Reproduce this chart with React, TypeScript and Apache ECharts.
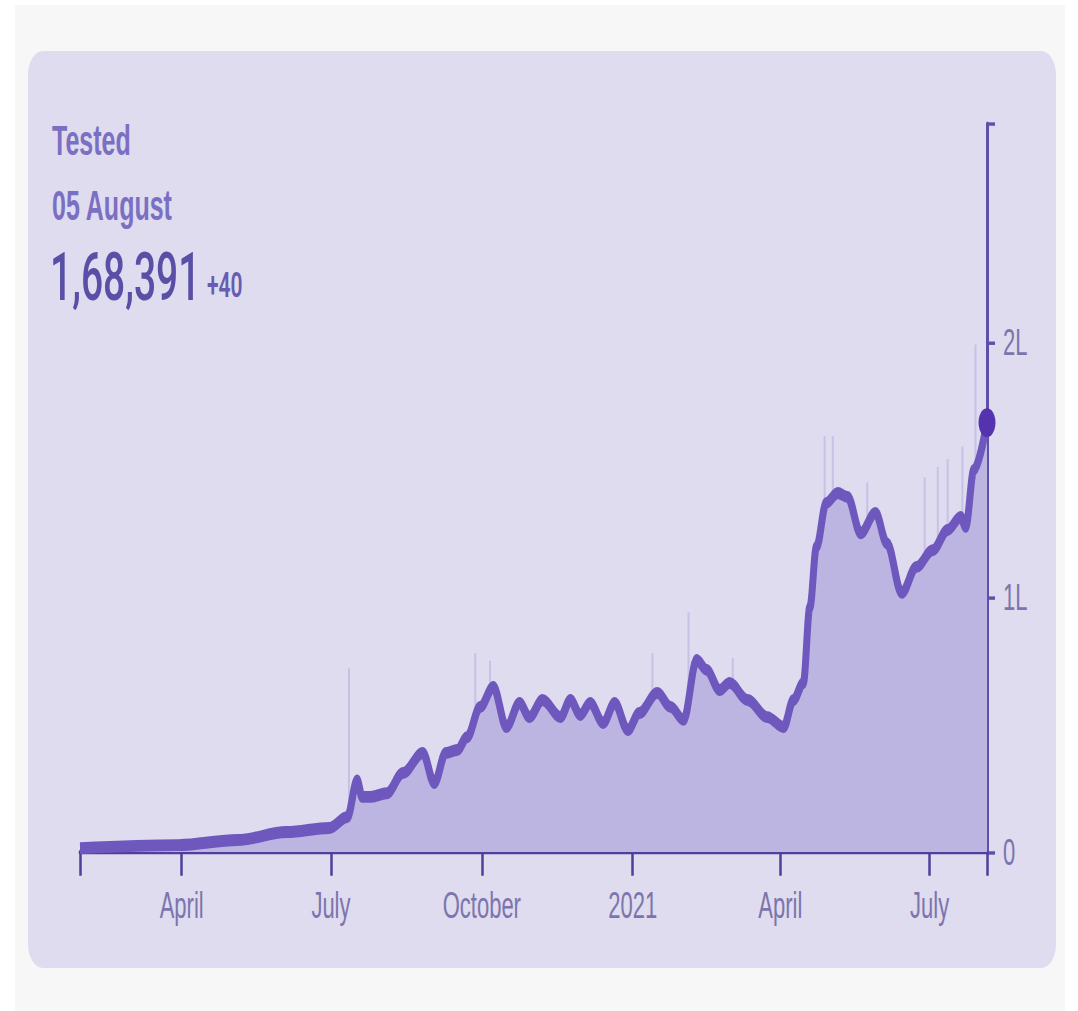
import React, { useEffect, useRef } from 'react';
import * as echarts from 'echarts';

// 7-day average of daily tests
const lineDates = [
  '2020-01-30', '2020-03-30', '2020-05-05', '2020-06-04', '2020-06-30', '2020-07-11', '2020-07-17', '2020-07-20',
  '2020-07-25', '2020-08-04', '2020-08-14', '2020-08-26', '2020-09-02', '2020-09-09', '2020-09-16', '2020-09-22',
  '2020-09-30', '2020-10-08', '2020-10-16', '2020-10-24', '2020-10-30', '2020-11-07', '2020-11-18', '2020-11-24',
  '2020-11-30', '2020-12-06', '2020-12-14', '2020-12-21', '2020-12-29', '2021-01-05', '2021-01-16', '2021-01-24',
  '2021-02-01', '2021-02-09', '2021-02-15', '2021-02-23', '2021-03-01', '2021-03-12', '2021-03-24', '2021-04-03',
  '2021-04-09', '2021-04-15', '2021-04-19', '2021-04-23', '2021-04-29', '2021-05-06', '2021-05-12', '2021-05-20',
  '2021-05-29', '2021-06-05', '2021-06-14', '2021-06-23', '2021-07-03', '2021-07-12', '2021-07-20', '2021-07-23',
  '2021-07-28', '2021-08-05',
];
const lineValues = [
  1500, 2700, 4700, 7800, 9400, 13700, 28000, 21600,
  21600, 23000, 31000, 38800, 27000, 38800, 40000, 45000,
  56900, 64700, 49000, 58400, 52900, 59600, 52900, 59600,
  53700, 58400, 50600, 58400, 47800, 54500, 62400, 56900,
  51800, 75300, 71400, 63500, 66300, 59600, 52900, 49000,
  59600, 66300, 96000, 119600, 136900, 140800, 139200, 125000,
  133000, 121000, 101600, 111800, 118400, 126300, 131400, 127500,
  149800, 168391,
];

// visible daily spikes rising above the average line
const spikeDates = [
  '2020-07-12', '2020-09-27', '2020-10-06', '2021-01-13', '2021-02-04', '2021-03-03', '2021-04-28',
  '2021-05-03', '2021-05-24', '2021-06-28', '2021-07-06', '2021-07-12', '2021-07-21', '2021-07-29',
];
const spikeValues = [
  72000, 78000, 75000, 78000, 94000, 76000, 163000,
  163000, 145000, 147000, 151000, 154000, 159000, 199000,
];

const xStart = '2020-01-30';
const xEnd = '2021-08-05';
const xTickDates = ['2020-04-01', '2020-07-01', '2020-10-01', '2021-01-01', '2021-04-01', '2021-07-01'];
const yTickValues = [0, 100000, 200000];
const yTickLabels = ['0', '1L', '2L'];
const yMax = 285500;
const monthNames = ['January', 'February', 'March', 'April', 'May', 'June', 'July', 'August', 'September', 'October', 'November', 'December'];

const titleText = 'Tested';
const dateText = '05 August';
const valueText = '1,68,391';
const deltaText = '+40';

const LOGICAL_H = 595;
const SCALE = 1011 / LOGICAL_H;

function ts(s: string): number {
  const [y, m, d] = s.split('-').map(Number);
  return new Date(y, m - 1, d).getTime();
}

export default function App() {
  const ref = useRef<HTMLDivElement>(null);

  useEffect(() => {
    document.body.style.margin = '0';
    const chart = echarts.init(ref.current as HTMLDivElement, null, { renderer: 'svg' });
    const lineData = lineDates.map((d, i) => [ts(d), lineValues[i]]);
    const spikeData = spikeDates.map((d, i) => [ts(d), spikeValues[i]]);
    const last = lineData[lineData.length - 1];
    const xMin = ts(xStart);
    const xMax = ts(xEnd);
    const xTicks = xTickDates.map(ts);
    const labelFont = { fontFamily: 'Liberation Sans, Arial, sans-serif', fontSize: 22, color: '#7c75ad' };

    chart.setOption({
      animation: false,
      backgroundColor: 'transparent',
      grid: { left: 80, right: 91, top: 73, bottom: LOGICAL_H - 501.4 },
      xAxis: {
        type: 'value',
        min: xMin,
        max: xMax,
        splitLine: { show: false },
        axisLine: { show: true, onZero: false, lineStyle: { color: '#4f3f9a', width: 2.6 } },
        axisTick: { show: true, length: 14, lineStyle: { color: '#4f3f9a', width: 2.5 }, customValues: [xMin, ...xTicks, xMax] },
        axisLabel: {
          ...labelFont,
          margin: 20,
          customValues: xTicks,
          formatter: (v: number) => {
            const dt = new Date(v);
            return dt.getMonth() === 0 ? String(dt.getFullYear()) : monthNames[dt.getMonth()];
          },
        },
      },
      yAxis: {
        type: 'value',
        position: 'right',
        min: 0,
        max: yMax,
        splitLine: { show: false },
        axisLine: { show: true, lineStyle: { color: '#5e4fa8', width: 3 } },
        axisTick: { show: true, length: 8, lineStyle: { color: '#5e4fa8', width: 2 }, customValues: [...yTickValues, yMax] },
        axisLabel: {
          ...labelFont,
          margin: 16,
          customValues: yTickValues,
          formatter: (v: number) => {
            const i = yTickValues.indexOf(v);
            return i >= 0 ? yTickLabels[i] : '';
          },
        },
      },
      graphic: [
        {
          type: 'text', left: 52, top: 70, z: 10,
          style: { text: titleText, fill: '#7a6fc2', font: 'bold 25px "Liberation Sans", Arial, sans-serif' },
        },
        {
          type: 'text', left: 52, top: 108, z: 10,
          style: { text: dateText, fill: '#7a6fc2', font: 'bold 25px "Liberation Sans", Arial, sans-serif' },
        },
        {
          type: 'text', left: 50, top: 144, z: 10,
          style: { text: valueText, fill: '#5a4fa6', font: '500 39px Roboto, "Liberation Sans", sans-serif' },
        },
        {
          type: 'text', left: 207, top: 157, z: 10,
          style: { text: deltaText, fill: '#675cb2', font: '600 21px Roboto, "Liberation Sans", sans-serif' },
        },
      ],
      series: [
        {
          type: 'bar',
          data: spikeData,
          barWidth: 2,
          itemStyle: { color: '#c8c1e7' },
          z: 1,
        },
        {
          type: 'line',
          data: lineData,
          smooth: 0.35,
          smoothMonotone: 'x',
          showSymbol: false,
          lineStyle: { color: '#6e58bd', width: 7 },
          areaStyle: { color: '#bdb5e1', opacity: 1 },
          z: 2,
        },
        {
          type: 'scatter',
          data: [last],
          symbolSize: 17,
          itemStyle: { color: '#5334ae', opacity: 1 },
          z: 3,
        },
      ],
    });
    return () => chart.dispose();
  }, []);

  return (
    <div style={{ position: 'relative', width: 1078, height: 1011, overflow: 'hidden', background: '#ffffff' }}>
      <div style={{ position: 'absolute', left: 15, top: 5, width: 1050, height: 1006, background: '#f7f7f8' }} />
      <div
        style={{
          position: 'absolute', left: 28, top: 51, width: 1028, height: 917,
          background: '#dedcee', borderRadius: '15px / 24px',
        }}
      />
      <div
        style={{
          position: 'absolute', left: 0, top: 0, width: 1078, height: LOGICAL_H,
          transform: `scaleY(${SCALE})`, transformOrigin: '0 0',
        }}
      >
        <div ref={ref} style={{ width: 1078, height: LOGICAL_H }} />
      </div>
    </div>
  );
}
